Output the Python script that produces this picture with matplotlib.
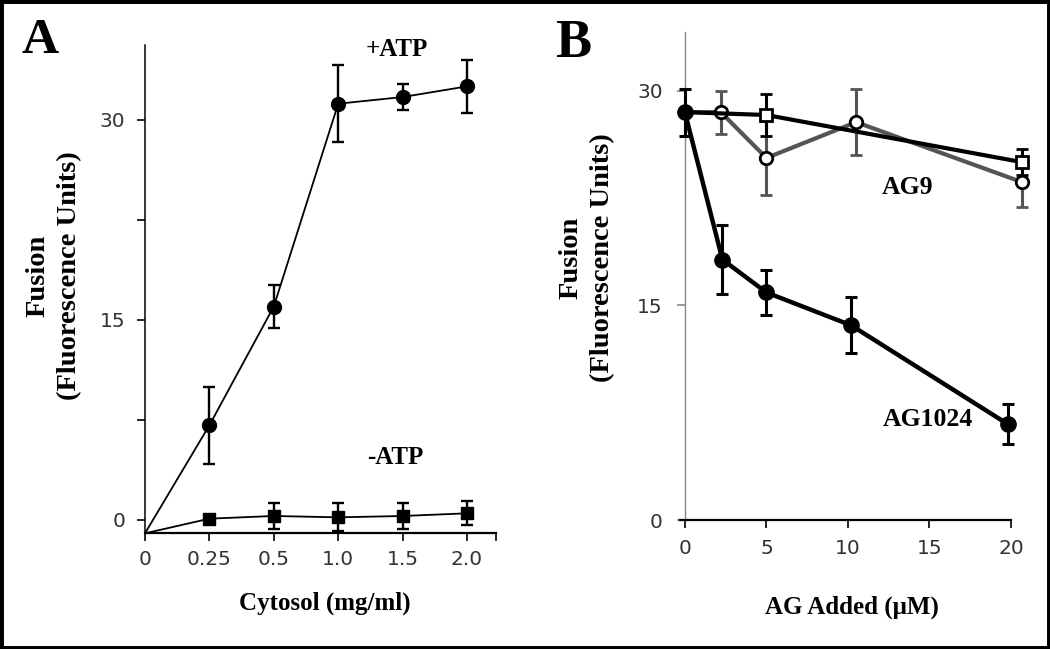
import numpy as np
import matplotlib
matplotlib.use('Agg')
from matplotlib import pyplot as plt
from matplotlib.patches import Rectangle

W, H = 1050, 649

# panel A: fusion vs cytosol, +/- ATP
cytosol_labels = ['0', '0.25', '0.5', '1.0', '1.5', '2.0']
plus_atp = [-1.0, 7.1, 16.0, 31.2, 31.7, 32.5]
plus_atp_err = [0, 2.9, 1.6, 2.9, 1.0, 2.0]
minus_atp = [-1.0, 0.1, 0.3, 0.2, 0.3, 0.5]
minus_atp_err = [0, 0.3, 1.0, 1.05, 0.95, 0.9]

# panel B: fusion vs AG added
ag1024_x = [0, 2.3, 5, 10.2, 19.8]
ag1024 = [28.5, 18.2, 15.9, 13.6, 6.7]
ag1024_err = [1.65, 2.4, 1.6, 1.95, 1.4]
ag9_x = [0, 2.2, 5, 10.5, 20.7]
ag9 = [28.5, 28.5, 25.3, 27.8, 23.6]
ag9_err = [0, 1.5, 2.6, 2.3, 1.7]
sq_x = [0, 5, 20.7]
sq = [28.5, 28.3, 25.0]
sq_err = [0, 1.5, 0.9]

SERIF = ['Liberation Serif', 'DejaVu Serif']
SANS = ['DejaVu Sans']
TICKC = '#333333'


def px(x, y):
    return x / W, 1 - y / H


def frac_box(x0, y0, x1, y1):
    return [x0 / W, 1 - y1 / H, (x1 - x0) / W, (y1 - y0) / H]


fig = plt.figure(figsize=(W / 100, H / 100), dpi=100)
fig.patch.set_facecolor('white')

# ---- panel A ----
axA = fig.add_axes(frac_box(145, 45, 496, 533))
xs = np.arange(len(cytosol_labels))
axA.plot(xs, plus_atp, color='black', lw=1.3, zorder=2)
axA.errorbar(xs[1:], plus_atp[1:], yerr=plus_atp_err[1:], fmt='o', color='black',
             ms=10, elinewidth=1.7, capsize=4, capthick=1.7, zorder=3)
axA.plot(xs, minus_atp, color='black', lw=1.3, zorder=2)
axA.errorbar(xs[1:], minus_atp[1:], yerr=minus_atp_err[1:], fmt='s', color='black',
             ms=9, elinewidth=1.7, capsize=4, capthick=1.7, zorder=3)
axA.set_xlim(0, 5.45)
axA.set_ylim(-0.975, 35.6)
axA.set_xticks(list(xs) + [5.45])
axA.set_xticklabels(cytosol_labels + [''])
axA.set_yticks([0, 15, 30])
axA.set_yticks([7.5, 22.5], minor=True)
for s in ['top', 'right']:
    axA.spines[s].set_visible(False)
axA.spines['left'].set_linewidth(1.1)
axA.spines['bottom'].set_linewidth(1.6)
axA.tick_params(axis='both', which='both', direction='out', length=6, width=1.2,
                colors='black', labelcolor=TICKC, labelsize=14.5)
axA.tick_params(axis='y', pad=8)
axA.tick_params(axis='x', pad=6)

# ---- panel B ----
axB = fig.add_axes(frac_box(680, 32, 1011, 520))
axB.errorbar(ag9_x, ag9, yerr=ag9_err, color='#555555', lw=3, elinewidth=2.2,
             capsize=4, capthick=2.2, marker='o', ms=9, mfc='white', mec='black',
             mew=2, markevery=slice(1, None), clip_on=False, zorder=2)
axB.errorbar(sq_x, sq, yerr=sq_err, color='black', lw=3, elinewidth=2.2,
             capsize=4, capthick=2.2, marker='s', ms=9, mfc='white', mec='black',
             mew=2, markevery=slice(1, None), clip_on=False, zorder=3)
axB.errorbar(ag1024_x, ag1024, yerr=ag1024_err, color='black', lw=3.2, elinewidth=2.2,
             capsize=4, capthick=2.2, marker='o', ms=11, clip_on=False, zorder=4)
axB.set_xlim(-0.3, 20)
axB.set_ylim(0, 34.1)
axB.spines['left'].set_position(('data', 0))
axB.set_xticks([0, 5, 10, 15, 20])
axB.set_yticks([0, 15, 30])
for s in ['top', 'right']:
    axB.spines[s].set_visible(False)
axB.spines['left'].set_color('#888888')
axB.spines['left'].set_linewidth(1.0)
axB.spines['bottom'].set_linewidth(1.6)
axB.tick_params(axis='both', direction='out', length=6, width=1.2,
                colors='black', labelcolor=TICKC, labelsize=14.5)
axB.tick_params(axis='y', pad=10, color='#888888')
axB.tick_params(axis='x', pad=8)

for ax in (axA, axB):
    for lab in ax.get_xticklabels() + ax.get_yticklabels():
        lab.set_family(SANS)

# ---- texts ----
def ftext(x, y, s, **kw):
    kw.setdefault('family', SERIF)
    kw.setdefault('weight', 'bold')
    fig.text(*px(x, y), s, **kw)


ftext(22, 53, 'A', fontsize=37, ha='left', va='baseline')
ftext(555, 57, 'B', fontsize=39, ha='left', va='baseline')

ylab = 'Fusion\n(Fluorescence Units)'
ftext(54, 276, ylab, fontsize=20.5, rotation=90, ha='center', va='center',
      multialignment='center', linespacing=1.35)
ftext(587, 258, ylab, fontsize=20.5, rotation=90, ha='center', va='center',
      multialignment='center', linespacing=1.35)

ftext(325, 603, 'Cytosol (mg/ml)', fontsize=18, ha='center', va='center')
ftext(852, 607, 'AG Added (\u03bcM)', fontsize=18, ha='center', va='center')

ftext(397, 50, '+ATP', fontsize=18, ha='center', va='center')
ftext(395, 457, '-ATP', fontsize=18, ha='center', va='center')
ftext(908, 187, 'AG9', fontsize=18.5, ha='center', va='center')
ftext(928, 419, 'AG1024', fontsize=18.5, ha='center', va='center')

# outer frame
fig.add_artist(Rectangle((0, 0), 1, 1, transform=fig.transFigure, fill=False,
                         edgecolor='black', lw=5))

fig.savefig('out.png', dpi=100)
